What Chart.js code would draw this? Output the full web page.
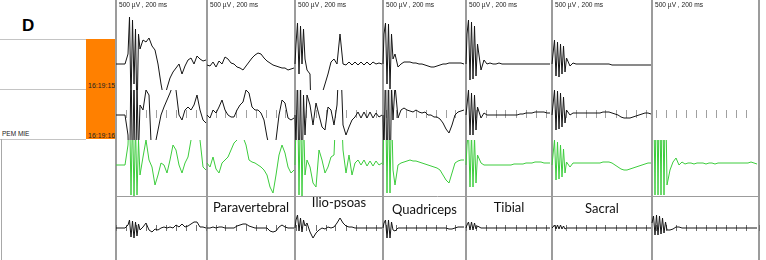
<!DOCTYPE html>
<html>
<head>
<meta charset="utf-8">
<script src="https://cdn.jsdelivr.net/npm/chart.js@4"></script>
<style>
  html, body { margin: 0; padding: 0; background: #fff; }
  #wrap { position: relative; width: 766px; height: 260px; overflow: hidden; font-family: "Liberation Sans", Arial, sans-serif; }
  #traces { position: absolute; left: 114px; top: 0; }
  .rule { position: absolute; left: 0; width: 86px; height: 1px; background: #c4c4c4; }
  #stamp-box { position: absolute; left: 86px; top: 39px; width: 29px; height: 100px; background: #ff8000; }
  .small { position: absolute; font-size: 7px; line-height: 1; color: #222; white-space: nowrap; }
  .header { position: absolute; top: 2px; font-size: 6.6px; line-height: 1; color: #222; white-space: nowrap; }
  .muscle { position: absolute; font-family: Lato, "Open Sans", sans-serif; font-size: 13px; line-height: 1; color: #111; white-space: nowrap; transform: translateX(-50%); }
  #letter { position: absolute; left: 22px; top: 17px; font-size: 17px; font-weight: bold; line-height: 1; color: #000; }
  #left-border { position: absolute; left: 1px; top: 139px; width: 1px; height: 121px; background: #a8a8a8; }
</style>
</head>
<body>
<div id="wrap">
  <div id="letter"></div>
  <div class="rule" style="top:39px"></div>
  <div class="rule" style="top:89px"></div>
  <div class="rule" style="top:139px"></div>
  <div id="left-border"></div>
  <div id="stamp-box"></div>
  <div class="small" id="stamp1" style="left:88px; top:82px"></div>
  <div class="small" id="stamp2" style="left:88px; top:132px"></div>
  <div class="small" id="channel" style="left:2px; top:131px; font-size:6.5px"></div>
  <canvas id="traces" width="648" height="260"></canvas>
</div>
<script>
// Sweep windows (ms from the start of the strip), one per stimulation site
const panelEdges = [0, 91, 179, 267, 350, 436, 536, 643];
const SAMPLE_STEP = 3;
const BURST_STEP = 1.5;
const headerText = '500 µV , 200 ms';
const muscleNames = ['', 'Paravertebral', 'Ilio-psoas', 'Quadriceps', 'Tibial', 'Sacral', ''];
const timeStamps = ['16:19:15', '16:19:16'];
const channelName = 'PEM MIE';
const figureLetter = 'D';

// Stimulus train onset in each sweep (ms after sweep start), null = none
const burstStart = [12, null, 1, 1, 1, 1, 0];

// Amplitudes per channel, per panel, sampled every SAMPLE_STEP ms (positive = up)
const topTrace = [
    [0, 0, 0, 0, 0, 47, -60, 40, 15, 24, 22, 26, 18, 14, 0, -20, -36, -24, -14, -8, -4, 0, -10, -2, 4, 6, 0, 8, 5, 3, 4],
    [-1, -2, 2, -3, 3, 0, 7, 5, 1, 0, -3, -4, -6, -2, 2, 6, 9, 11, 10, 6, 3, 1, -1, -2, -3, -4, -4, -6, -5, -4],
    [0, 42, -5, 30, -6, -10, -125, -70, -40, -30, -20, -10, 2, 5, 0, 30, 0, -1, 2, -1, 2, -1, 2, -1, 2, -1, 2, 0, 1, 0],
    [0, 40, -30, 35, 10, -3, 0, 2, 2, 2, 1, 1, 0, 0, -1, -2, -3, -3, -2, -1, 0, 0, 1, 1, 1, 1, 1, 0],
    [0, 44, -35, 40, -25, -6, 4, 0, 1, 0, 0, 1, 0, 0, 0, 0, 0, 0, 0, 0, 0, 0, 0, 0, 0, 0, 0, 0, 0],
    [0, 18, -12, 20, -10, 12, -2, 1, 0, 0, 0, 0, 0, 0, 0, 0, 0, 0, 0, 0, -1, -1, -1, -1, -1, -1, -1, -1, -1, -1, -1, -1, -1, -1],
    []
];
const midTrace = [
    [0, 0, 0, 0, 0, -78, 50, -75, 10, 5, 25, 20, -50, -30, -15, 0, 8, 15, 22, 30, 25, 0, -5, 5, 8, 5, 10, 20, 5, -5, -8],
    [0, -3, 5, 2, 8, 15, 5, 0, -2, -2, 5, 10, 13, 25, 22, 8, 5, 5, 2, -5, -22, -35, -38, -25, 0, 15, 12, -3, -5, -3],
    [0, -50, 40, -60, 20, 10, -10, 12, 0, -12, -15, 8, 5, -10, 10, 75, -10, -20, -12, -5, -2, 3, -3, 3, -3, 3, -3, 2, -2, 0],
    [0, -60, 50, -55, 30, -3, 5, 7, 5, 4, 3, 5, 3, 2, 3, 0, 0, -2, -2, -4, -8, -14, -18, -10, 0, 3, 4, 5],
    [0, -20, 18, -22, 10, -3, 2, 0, 0, 0, 0, 0, 0, 0, 0, 0, 0, 0, 1, 1, 2, 2, 2, 3, 3, 3, 3, 2, 2],
    [0, 25, -15, 22, -12, 15, 0, 2, 2, 2, 2, 2, 2, 2, 2, 2, 2, 3, 3, 3, 2, 1, 0, -2, -3, -3, -3, -2, -1, 0, 1, 2, 2, 1],
    []
];
const greenTrace = [
    [0, 0, 0, 0, 0, 60, -30, 45, -30, 8, 25, 5, -2, -20, -10, 2, 0, -8, 5, 20, 15, 0, -8, 2, 8, 25, 40, 52, 25, -2, -5],
    [2, -2, 8, -4, -8, 2, 5, 8, 15, 22, 25, 30, 28, 20, 5, 3, 2, 0, -2, -5, -10, -22, -28, -10, 10, 20, 12, -2, -8, -5],
    [0, 80, -25, 60, 5, -2, -18, -22, 15, 5, -8, -2, 8, 10, 80, 90, 15, -8, 10, -10, 2, 5, 0, 5, -1, 4, -1, 4, 0, 2],
    [0, 80, -28, 70, -20, 0, 2, 3, 4, 5, 4, 4, 3, 2, 1, 0, -1, -2, -3, -5, -10, -15, -18, -8, 2, 4, 5, 5],
    [0, 35, -20, 30, -18, 2, 0, 0, 0, 0, 0, 0, 0, 0, 0, 0, 1, 1, 1, 1, 2, 2, 2, 3, 3, 3, 2, 2, 2],
    [0, 25, -15, 20, -12, 10, -2, 2, 2, 2, 2, 2, 2, 2, 2, 2, 2, 3, 3, 3, 2, 0, -2, -4, -5, -5, -4, -3, -2, -1, 0, 1, 2, 2],
    [88, -30, 92, -30, 90, -25, -5, 3, 7, 0, 3, 1, 2, 2, 1, 2, 2, 2, 1, 2, 2, 1, 2, 2, 2, 2, 2, 2, 2, 2, 2, 2, 2, 3, 2, 1]
];
const bottomTrace = [
    [0, 0, 0, 0, 0, 8, -10, 8, -6, 1, 5, -2, -4, -1, -2, 0, 1, 0, 1, 0, 3, 1, 4, 1, 2, 4, 6, 6, 1, 1, 0],
    [0, 0, 1, 0, 1, 1, 0, 0, 0, 0, 2, 3, 4, 4, 2, 1, 0, 0, 0, 0, 0, -3, -4, -3, 1, 3, 1, 0, 0, 0],
    [0, 12, -3, 8, 5, -4, -10, -5, -2, 0, -1, 1, 0, 1, 5, 10, 5, 2, 1, 1, 0, 0, 0, 0, 0, 0, 0, 0, 0, 0],
    [0, 8, -10, 7, -3, 0, 0, 0, 0, 0, 0, 0, 0, 0, 0, 0, 0, 0, 0, 0, 0, 0, -1, -1, 0, 1, 1, 1],
    [0, 6, -2, 6, 0, 0, 0, 0, 0, 0, 0, 0, 0, 0, 0, 0, 0, 0, 0, 0, 0, 0, 0, 0, 0, 0, 0, 0, 0],
    [0, 3, -1, 3, -1, 2, 0, 0, 0, 0, 0, 0, 0, 0, 0, 0, 0, 0, 0, 0, 0, 0, 0, 0, 0, 0, 0, 0, 0, 0, 0, 0, 0, 0],
    [0, 12, -7, 12, -7, 10, -2, -1, 1, 1, 0, 0, 0, 0, 0, 0, 0, 0, 0, 0, 0, 0, 0, 0, 0, 0, 0, 0, 0, 0, 0, 0, 0, 0, 0, 0]
];

// Stimulus artefact bursts, sampled every BURST_STEP ms from burstStart
const topBurst = [
    [10, 47, -40, 44, -20, 35, -56, 30, 15],
    [],
    [20, 41, -10, 38, 0, 35, 5],
    [30, 41, -20, 40, -25, 30, 5],
    [30, 44, -16, 42, -15, 38, -12, 20],
    [10, 24, -12, 22, -13, 20, -10, 18, -8, 6],
    []
];
const midBurst = [
    [-20, -78, 60, -70, 40, -80, 30, -40, 10],
    [],
    [-30, 40, -70, 35, -75, 20, -20],
    [-40, 50, -75, 45, -78, 30, -5],
    [10, 25, -20, 22, -20, 20, -15, 8],
    [10, 25, -15, 24, -14, 22, -12, 18, -8, 5],
    []
];
const greenBurst = [
    [20, 62, -30, 50, -31, 40, -30, 25, -10],
    [],
    [40, 82, -30, 70, -31, 50, -10],
    [50, 80, -28, 75, -28, 60, -5],
    [20, 35, -22, 32, -22, 28, -18, 10],
    [10, 25, -15, 23, -14, 20, -12, 16, -8, 3],
    [60, 92, -30, 92, -30, 90, -30, 90, -30, 85, -20]
];
const bottomBurst = [
    [3, 8, -9, 7, -10, 6, -8, 4, -2],
    [],
    [8, 13, -3, 10, -4, 8, 2],
    [5, 8, -10, 8, -10, 6, -2],
    [3, 6, -2, 6, -2, 5, -1, 2],
    [1, 3, -1, 3, -1, 3, -1, 2, -1, 0],
    [5, 12, -7, 13, -7, 12, -6, 10, -5, 6, -2]
];

const muscleTops = { 'Paravertebral': 201, 'Ilio-psoas': 196, 'Quadriceps': 203, 'Tibial': 201, 'Sacral': 202 };

function buildSeries(panels, bursts) {
    const points = [];
    panels.forEach((values, p) => {
        const burst = bursts[p] || [];
        const b0 = panelEdges[p] + (burstStart[p] || 0);
        const b1 = b0 + burst.length * BURST_STEP;
        const pts = [];
        values.forEach((v, i) => {
            const x = panelEdges[p] + i * SAMPLE_STEP;
            if (!burst.length || x < b0 || x >= b1) pts.push({ x: x, y: v });
        });
        burst.forEach((v, i) => pts.push({ x: b0 + i * BURST_STEP, y: v }));
        pts.sort((a, b) => a.x - b.x);
        points.push(...pts);
        // break the line between sweeps
        points.push({ x: panelEdges[p + 1] - 0.5, y: null });
    });
    return points;
}

function hiddenY(weight, min, max) {
    return {
        type: 'linear', stack: 'channels', stackWeight: weight, min: min, max: max,
        ticks: { display: false }, grid: { display: false, drawTicks: false }, border: { display: false }
    };
}

function tickRow(axisId, level, length, color) {
    const pos = {};
    pos[axisId] = level;
    return {
        type: 'linear', position: pos, min: 0, max: panelEdges[panelEdges.length - 1],
        ticks: { display: false, stepSize: 10 },
        grid: { drawOnChartArea: false, drawTicks: true, tickLength: length, color: color },
        border: { display: false }
    };
}

const lineDefaults = { borderWidth: 1, pointRadius: 0, spanGaps: false, tension: 0 };

const traceChart = new Chart(document.getElementById('traces'), {
    type: 'line',
    data: {
        datasets: [
            Object.assign({ label: 'Channel 3', data: buildSeries(greenTrace, greenBurst), yAxisID: 'yGreen', borderColor: '#3ccc3c' }, lineDefaults),
            Object.assign({ label: 'Channel 2', data: buildSeries(midTrace, midBurst), yAxisID: 'yMid', borderColor: '#151515' }, lineDefaults),
            Object.assign({ label: 'Channel 1', data: buildSeries(topTrace, topBurst), yAxisID: 'yTop', borderColor: '#151515' }, lineDefaults),
            Object.assign({ label: 'Channel 4', data: buildSeries(bottomTrace, bottomBurst), yAxisID: 'yBottom', borderColor: '#151515' }, lineDefaults)
        ]
    },
    options: {
        responsive: false,
        animation: false,
        devicePixelRatio: 1,
        events: [],
        layout: { padding: { left: 2, right: 3, top: 0, bottom: 0 } },
        plugins: { legend: { display: false }, tooltip: { enabled: false } },
        scales: {
            x: {
                type: 'linear', min: 0, max: panelEdges[panelEdges.length - 1],
                ticks: { display: false },
                grid: { color: '#9c9c9c', lineWidth: 2, drawTicks: false },
                border: { display: false },
                afterBuildTicks: axis => { axis.ticks = panelEdges.map(v => ({ value: v })); }
            },
            xMidTicks: tickRow('yMid', 5, 8, '#a0a0a0'),
            xBottomTicks: tickRow('yBottom', 3, 6, '#707070'),
            yBottom: {
                type: 'linear', stack: 'channels', stackWeight: 64, min: -32, max: 32,
                ticks: { display: false },
                grid: { color: '#9c9c9c', lineWidth: 1, drawTicks: false },
                border: { display: false },
                afterBuildTicks: axis => { axis.ticks = [{ value: axis.max }]; }
            },
            yGreen: hiddenY(56, -31, 25),
            yMid: hiddenY(50, -25, 25),
            yTop: hiddenY(90, -26, 64)
        }
    }
});

// text around the traces
document.getElementById('letter').textContent = figureLetter;
document.getElementById('stamp1').textContent = timeStamps[0];
document.getElementById('stamp2').textContent = timeStamps[1];
document.getElementById('channel').textContent = channelName;

const wrap = document.getElementById('wrap');
const canvasLeft = 114;
const xScale = traceChart.scales.x;
for (let p = 0; p < panelEdges.length - 1; p++) {
    const left = canvasLeft + xScale.getPixelForValue(panelEdges[p]);
    const right = canvasLeft + xScale.getPixelForValue(panelEdges[p + 1]);
    const h = document.createElement('div');
    h.className = 'header';
    h.style.left = (left + 3) + 'px';
    h.textContent = headerText;
    wrap.appendChild(h);
    if (muscleNames[p]) {
        const m = document.createElement('div');
        m.className = 'muscle';
        m.style.left = ((left + right) / 2) + 'px';
        m.style.top = muscleTops[muscleNames[p]] + 'px';
        m.textContent = muscleNames[p];
        wrap.appendChild(m);
    }
}
</script>
</body>
</html>
